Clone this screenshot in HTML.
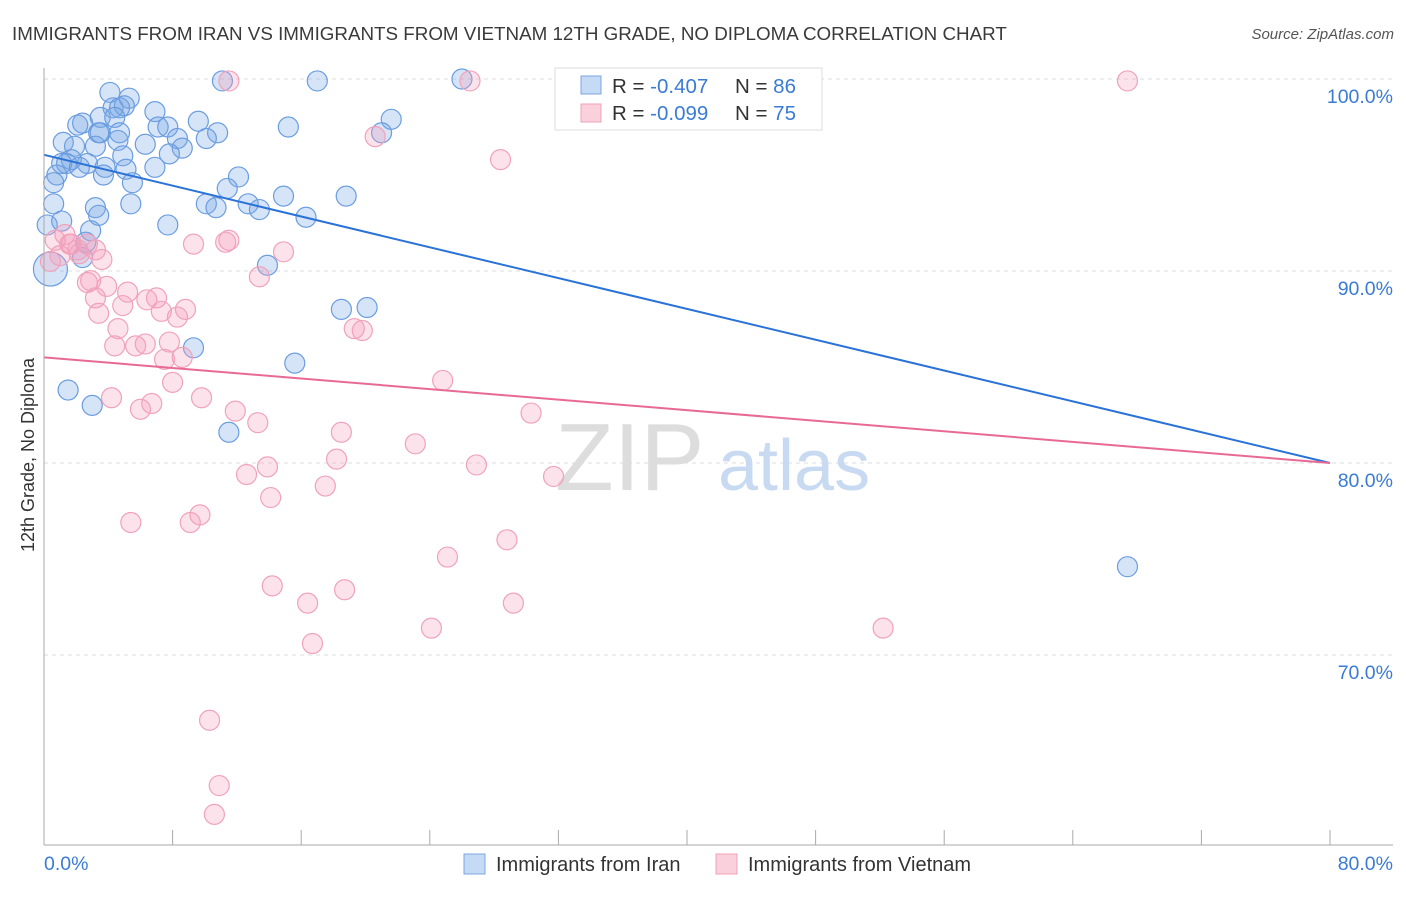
<!DOCTYPE html>
<html><head><meta charset="utf-8"><style>
body{margin:0;background:#fff;font-family:"Liberation Sans",sans-serif}
svg text{font-family:"Liberation Sans",sans-serif}
</style></head><body>
<svg id="chart" width="1406" height="892" viewBox="0 0 1406 892" xmlns="http://www.w3.org/2000/svg">
<text x="12" y="40" font-size="18.8" fill="#3a3a3a">IMMIGRANTS FROM IRAN VS IMMIGRANTS FROM VIETNAM 12TH GRADE, NO DIPLOMA CORRELATION CHART</text>
<text x="1394" y="39" font-size="15" fill="#555" font-style="italic" text-anchor="end">Source: ZipAtlas.com</text>
<g id="grid"></g>
<g><text x="555" y="490" font-size="96" fill="#ddd" font-family="Liberation Serif">ZIP</text><text x="718" y="490" font-size="72" fill="#c8daf2">atlas</text></g>
<g id="pts"></g>
<g id="lines"></g>
<g id="axes"></g>
<text transform="translate(34,455) rotate(-90)" font-size="18" fill="#333" text-anchor="middle">12th Grade, No Diploma</text>
<g>
<rect x="555" y="68" width="267" height="62" fill="#fff" stroke="#ddd"/>
<rect x="581" y="76" width="20" height="18" fill="#c5daf5" stroke="#7ba7e3"/>
<rect x="581" y="104" width="20" height="18" fill="#fad0dd" stroke="#f0a2ba"/>
<text x="612" y="93" font-size="20.5" fill="#333">R = <tspan fill="#3a7bd5">-0.407</tspan></text>
<text x="735" y="93" font-size="20.5" fill="#333">N = <tspan fill="#3a7bd5">86</tspan></text>
<text x="612" y="120" font-size="20.5" fill="#333">R = <tspan fill="#3a7bd5">-0.099</tspan></text>
<text x="735" y="120" font-size="20.5" fill="#333">N = <tspan fill="#3a7bd5">75</tspan></text>
</g>
<g>
<rect x="464" y="854" width="21" height="20" fill="#c5daf5" stroke="#7ba7e3"/>
<text x="496" y="871" font-size="20" fill="#333">Immigrants from Iran</text>
<rect x="716" y="854" width="21" height="20" fill="#fad0dd" stroke="#f0a2ba"/>
<text x="748" y="871" font-size="20" fill="#333">Immigrants from Vietnam</text>
</g>
</svg>
<script>
const yTicks=[70,80,90,100];
const yTickLabels=["70.0%","80.0%","90.0%","100.0%"];
const xEndLabels=["0.0%","80.0%"];
const iranX=[4.1,5.3,4.3,5.0,4.7,6.9,2.4,2.1,3.5,4.4,7.1,7.7,9.6,10.8,10.1,3.5,4.7,3.4,1.2,1.9,3.2,4.6,6.3,8.3,8.6,7.8,1.7,1.4,1.1,2.7,4.9,2.2,3.8,5.1,3.7,6.9,0.8,0.6,5.5,0.6,0.2,1.1,5.4,3.2,3.4,2.9,2.6,2.4,7.7,12.1,11.4,10.1,10.7,12.7,13.4,14.9,16.3,18.8,15.2,17.0,11.1,26.0,21.6,21.0,18.5,20.1,13.9,9.3,15.6,1.5,3.0,11.5,67.4,0.4];
const iranY=[99.3,99.0,98.5,98.6,98.5,98.3,97.7,97.6,98.0,98.0,97.5,97.5,97.8,97.2,96.9,97.2,97.2,97.2,96.7,96.5,96.5,96.8,96.6,96.9,96.4,96.1,95.8,95.6,95.6,95.6,96.0,95.4,95.4,95.3,95.0,95.4,95.0,94.6,94.6,93.5,92.4,92.6,93.5,93.3,92.9,92.1,91.5,90.7,92.4,94.9,94.3,93.5,93.3,93.5,93.2,93.9,92.8,93.9,97.5,99.9,99.9,100,97.9,97.2,88.0,88.1,90.3,86.0,85.2,83.8,83.0,81.6,74.6,90.1];
const iranSize=[10,10,10,10,10,10,10,10,10,10,10,10,10,10,10,10,10,10,10,10,10,10,10,10,10,10,10,10,10,10,10,10,10,10,10,10,10,10,10,10,10,10,10,10,10,10,10,10,10,10,10,10,10,10,10,10,10,10,10,10,10,10,10,10,10,10,10,10,10,10,10,10,10,17];
const vietX=[11.5,26.5,67.4,20.6,28.4,9.3,11.3,11.5,14.9,13.4,3.6,2.7,2.9,3.9,3.2,3.4,5.2,4.9,6.4,7.0,7.3,8.3,8.8,4.6,4.4,5.7,6.3,7.8,7.5,8.6,8.0,19.3,19.8,4.2,6.0,6.7,9.8,11.9,13.3,18.5,18.2,17.5,12.6,13.9,14.1,5.4,9.1,9.7,23.1,26.9,31.7,30.3,24.8,25.1,28.8,29.2,24.1,16.4,16.7,18.7,14.2,10.3,10.9,10.6,52.2,0.7,1.3,1.7,2.1,2.7,3.2,1.0,2.2,0.4,1.6];
const vietY=[99.9,99.9,99.9,97.0,95.8,91.4,91.5,91.6,91.0,89.7,90.6,89.4,89.5,89.2,88.6,87.8,88.9,88.2,88.5,88.6,87.9,87.6,88.0,87.0,86.1,86.1,86.2,86.3,85.4,85.5,84.2,87.0,86.9,83.4,82.8,83.1,83.4,82.7,82.1,81.6,80.2,78.8,79.4,79.8,78.2,76.9,76.9,77.3,81.0,79.9,79.3,82.6,84.3,75.1,76.0,72.7,71.4,72.7,70.6,73.4,73.6,66.6,63.2,61.7,71.4,91.6,91.9,91.4,91.1,91.4,91.1,90.8,90.9,90.5,91.4];
const trendIran=[96.05,80.0];
const trendViet=[85.5,80.0];
const NS="http://www.w3.org/2000/svg";
const X=v=>44+v/80*1286;
const Y=v=>79+(100-v)*19.2;
function mk(tag,attrs,parent){const e=document.createElementNS(NS,tag);for(const k in attrs)e.setAttribute(k,attrs[k]);parent.appendChild(e);return e;}
const grid=document.getElementById('grid'),axes=document.getElementById('axes'),pts=document.getElementById('pts'),lines=document.getElementById('lines');
yTicks.forEach((t,i)=>{
 const l=mk('line',{x1:44,x2:1393,y1:Y(t),y2:Y(t),stroke:'#ddd','stroke-dasharray':'4,4'},grid);
 
 
 const tx=mk('text',{x:1393,y:Y(t)+24,'font-size':19.5,fill:'#3a7bd5','text-anchor':'end'},axes);
 tx.textContent=yTickLabels[i];
 
 
});
const ya=mk('line',{x1:44,x2:44,y1:68,y2:845,stroke:'#aaa'},axes);


const xa=mk('line',{x1:44,x2:1393,y1:845,y2:845,stroke:'#aaa'},axes);


for(let k=0;k<=10;k++){const v=k*8;
 const tk=mk('line',{x1:X(v),x2:X(v),y1:830,y2:845,stroke:'#aaa'},axes);
 
 
}
[[0,'start'],[80,'end']].forEach((p,i)=>{
 const tx=mk('text',{x:i?1393:44,y:870,'font-size':19.5,fill:'#3a7bd5','text-anchor':p[1]},axes);
 tx.textContent=xEndLabels[i];
 
 
});
iranX.forEach((x,i)=>{
 const c=mk('circle',{cx:X(x),cy:Y(iranY[i]),r:iranSize[i]||10,fill:'rgba(120,165,230,0.3)',stroke:'#6a9de0','stroke-width':1.2},pts);
 
 
});
vietX.forEach((x,i)=>{
 const c=mk('circle',{cx:X(x),cy:Y(vietY[i]),r:10,fill:'rgba(245,160,190,0.3)',stroke:'#f0a2ba','stroke-width':1.2},pts);
 
 
});
const li=mk('line',{x1:X(0),y1:Y(trendIran[0]),x2:X(80),y2:Y(trendIran[1]),stroke:'#2a72d8','stroke-width':2},lines);


const lv=mk('line',{x1:X(0),y1:Y(trendViet[0]),x2:X(80),y2:Y(trendViet[1]),stroke:'#e86a94','stroke-width':2},lines);


</script>
</body></html>
